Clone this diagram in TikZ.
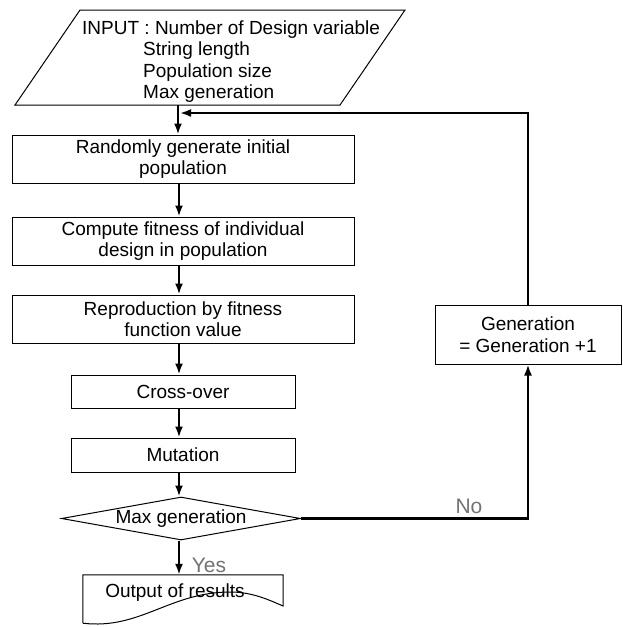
\documentclass[tikz,border=0pt]{standalone}
\usepackage{fontspec}
\setmainfont{Liberation Sans}
\usetikzlibrary{shapes.geometric,arrows.meta}
\begin{document}
\begin{tikzpicture}[x=1pt,y=-1pt,
  txt/.style={font=\fontsize{19}{21.5}\selectfont},
  box/.style={draw, line width=1pt, rectangle, inner sep=0pt, align=center, txt},
  flow/.style={line width=2.8pt, -{Latex[length=11pt,width=8pt]}},
  lbl/.style={text=black!55, font=\fontsize{21}{24}\selectfont, inner sep=0pt}
]
\useasboundingbox (0,0) rectangle (622,627);

% input parallelogram
\coordinate (p1) at (80,10);
\coordinate (p2) at (405,10);
\coordinate (p3) at (340,105);
\coordinate (p4) at (15,105);
\draw[line width=1pt] (p1) -- (p2) -- (p3) -- (p4) -- cycle;
\node[txt, anchor=base west, inner sep=0pt] (in1) at (82,34) {INPUT : Number of Design variable};
\node[txt, anchor=base west, inner sep=0pt] (in2) at (143,55.5) {String length};
\node[txt, anchor=base west, inner sep=0pt] (in3) at (143,77) {Population size};
\node[txt, anchor=base west, inner sep=0pt] (in4) at (143,98.5) {Max generation};

% process boxes
\node[box, minimum width=342, minimum height=48] (b1) at (183,159) {Randomly generate initial\\population};
\node[box, minimum width=342, minimum height=48] (b2) at (183,241) {Compute fitness of individual\\design in population};
\node[box, minimum width=342, minimum height=48] (b3) at (183,319) {Reproduction by fitness\\function value};
\node[box, minimum width=224, minimum height=33] (b4) at (183,391.5) {Cross-over};
\node[box, minimum width=224, minimum height=34] (b5) at (183,455) {Mutation};
\node[draw, line width=1pt, diamond, aspect=5.56, minimum width=239, minimum height=43, inner sep=0pt, txt] (dec) at (181,518.5) {Max generation};
\node[box, minimum width=186, minimum height=59] (gen) at (528,334.5) {Generation\\= Generation +1};

% output document
\node[minimum width=200, minimum height=48, inner sep=0pt] (out) at (183,599) {};
\draw[line width=1pt] (out.south west) -- (out.north west) -- (out.north east) -- (283,606)
  .. controls (265,598) and (250,592) .. (230,592)
  .. controls (170,592) and (140,630) .. (out.south west);
\node[txt, inner sep=0pt] (outlbl) at (175,593) {Output of results};

% connectors
\coordinate (ax) at (179,0);
\coordinate (inb) at (178,105);
\coordinate (fb) at (180,113);
\draw[flow] (inb) -- (inb |- b1.north);
\draw[flow] (b1.south -| ax) -- (b2.north -| ax);
\draw[flow] (b2.south -| ax) -- (b3.north -| ax);
\draw[flow] (b3.south -| ax) -- (b4.north -| ax);
\draw[flow] (b4.south -| ax) -- (b5.north -| ax);
\draw[flow] (b5.south -| ax) -- (dec.north -| ax);
\draw[flow] (dec.south -| ax) -- (out.north -| ax);
\draw[flow] (dec.east) -| (gen.south);
\draw[flow] (gen.north) |- (fb);

% labels
\node[lbl] (yes) at (209,565) {Yes};
\node[lbl] (no) at (469,506) {No};
\end{tikzpicture}
\end{document}
